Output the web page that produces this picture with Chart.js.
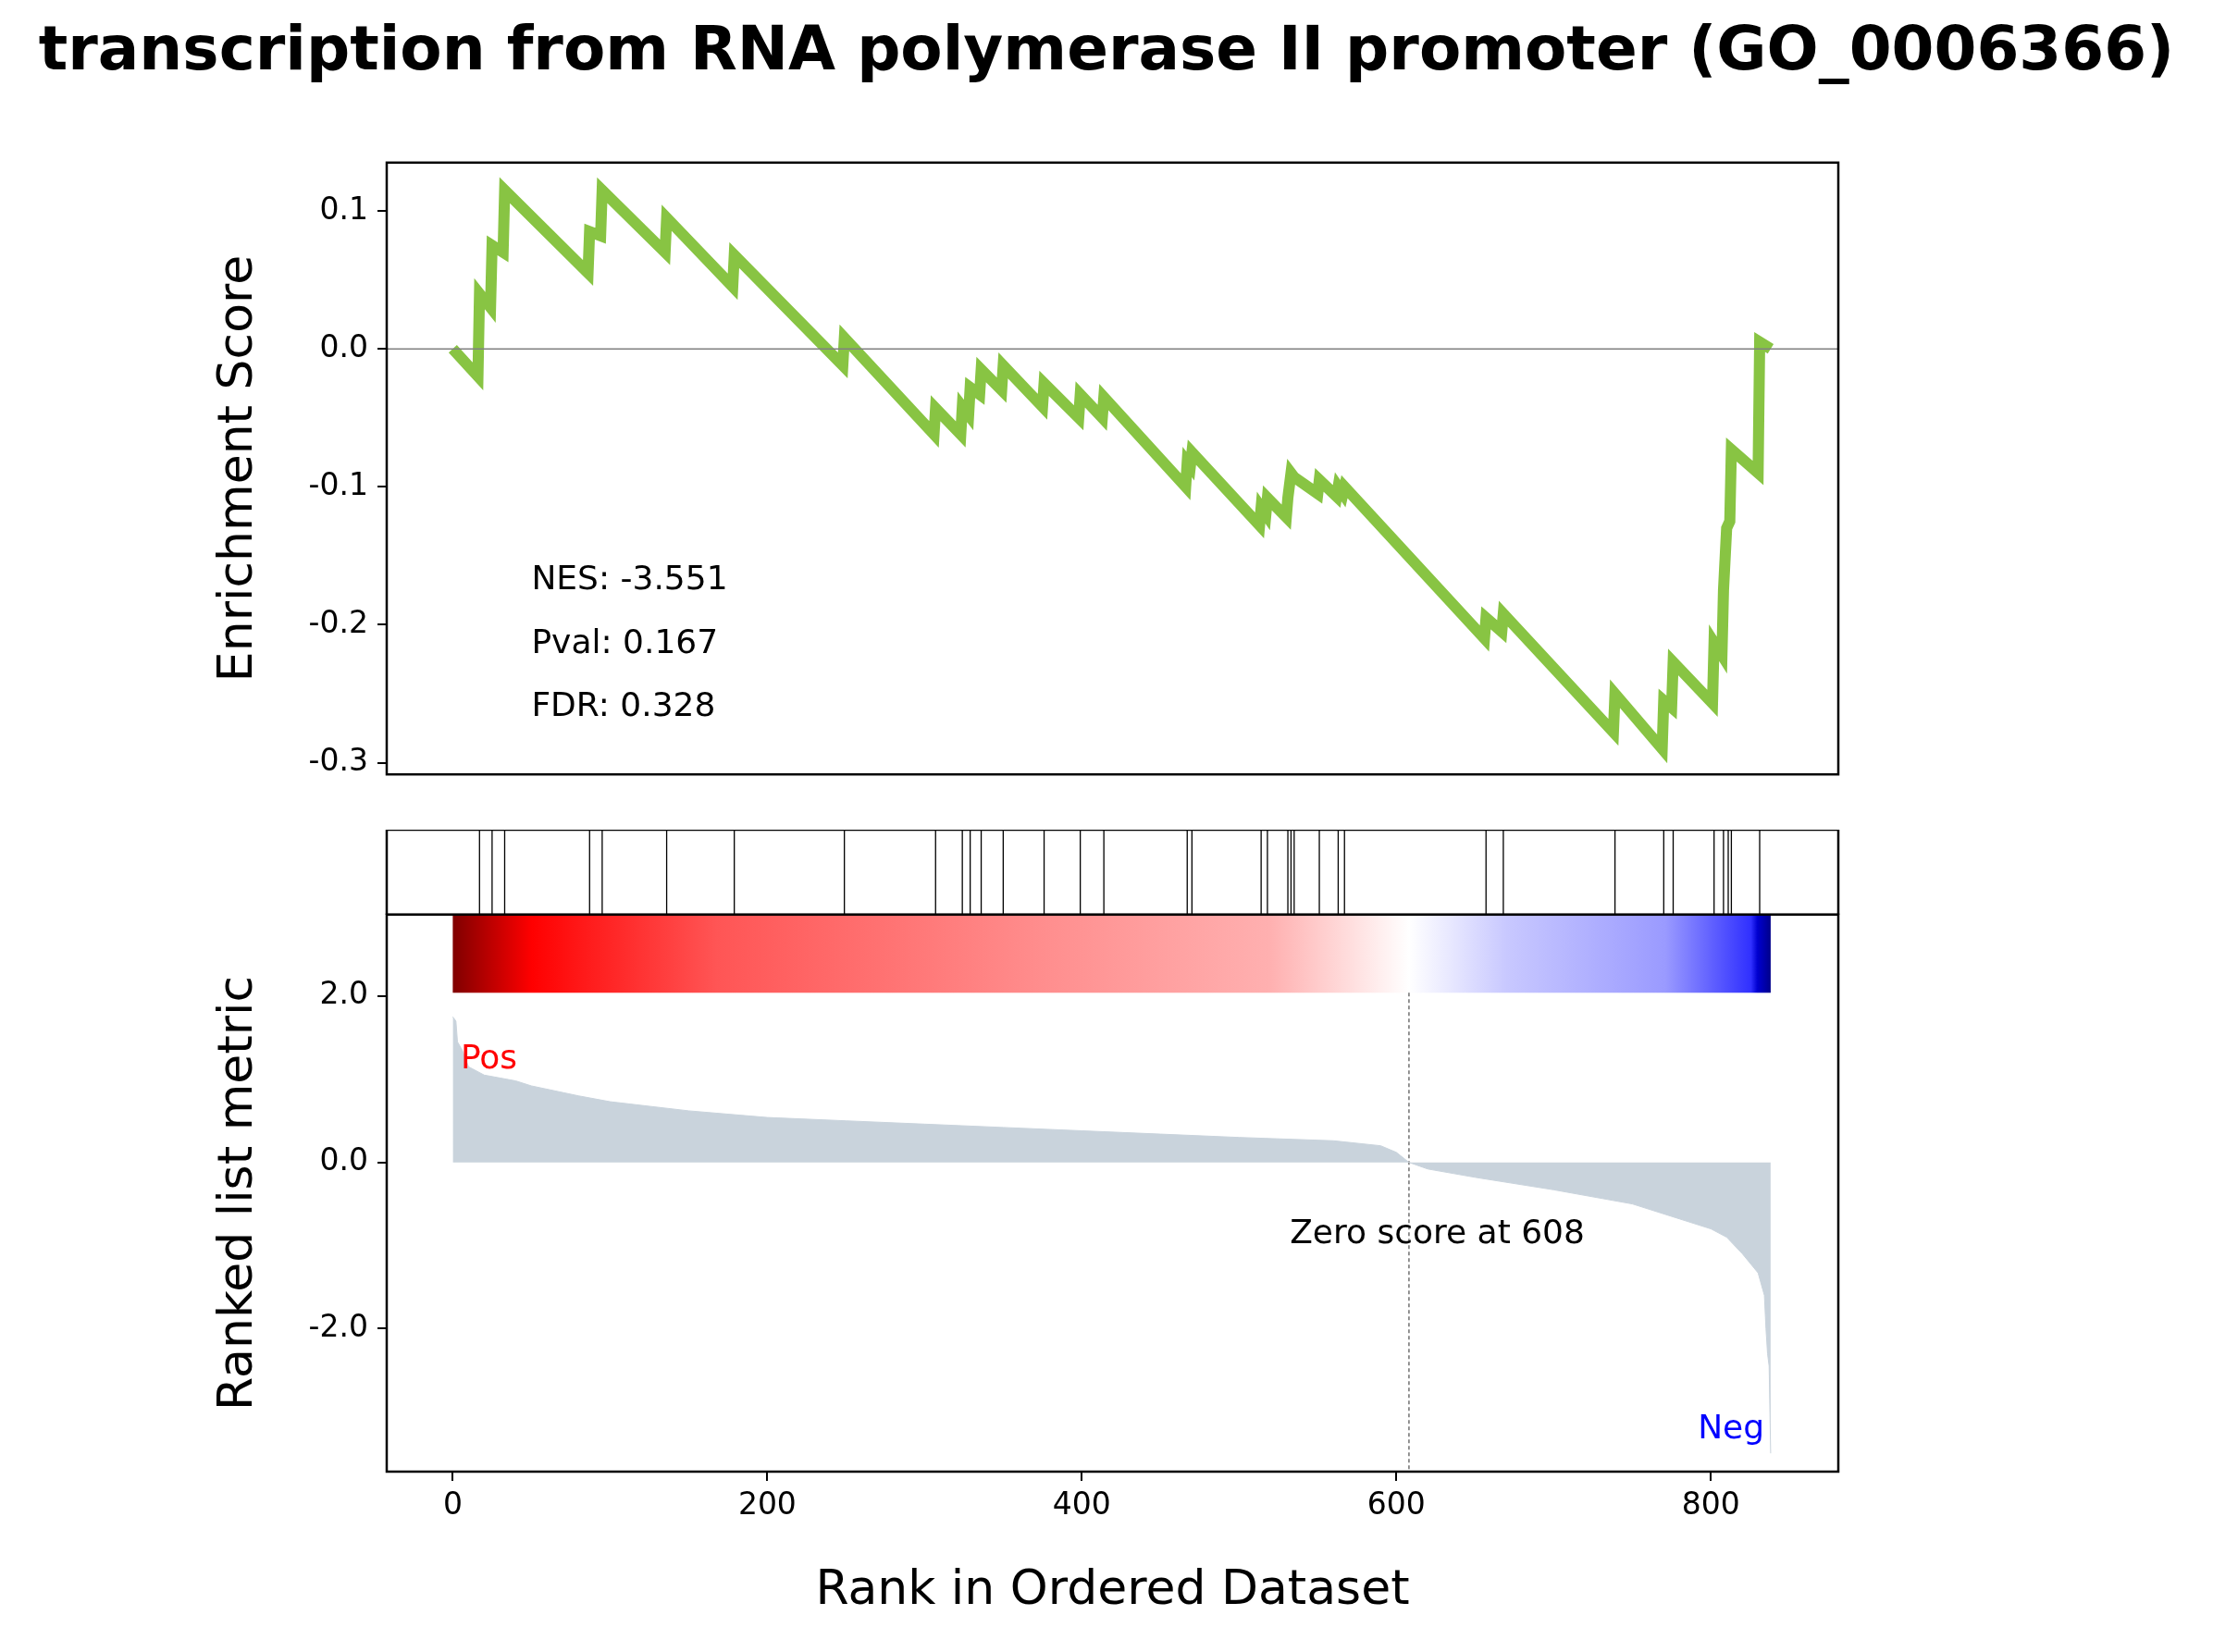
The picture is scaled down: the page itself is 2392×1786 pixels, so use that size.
<!DOCTYPE html><html><head><meta charset="utf-8">
<script src="https://cdn.jsdelivr.net/npm/chart.js@4/dist/chart.umd.min.js"></script>
<style>body{margin:0;width:2392px;height:1786px;background:#fff;position:relative;overflow:hidden;font-family:"DejaVu Sans"}
.p{position:absolute;left:0;width:2392px}#t{position:absolute;top:14px;left:0;width:2392px;text-align:center;font:bold 66px "DejaVu Sans"}</style></head><body>
<div id="t">transcription from RNA polymerase II promoter (GO_0006366)</div>
<div class="p" id="d1" style="top:176px"><canvas id="c1" width="2392" height="721"></canvas></div>
<div class="p" id="d2" style="top:897px"><canvas id="c2" width="2392" height="92"></canvas></div>
<div class="p" id="d3" style="top:989px"><canvas id="c3" width="2392" height="797"></canvas></div>
<script>
const esRank=[0,16,17,24,25,32,33,86,87,94,95,135,136,178,179,248,249,306,307,323,324,328,329,335,336,349,350,375,376,398,399,413,414,466,467,469,470,513,514,517,518,530,531,533,535,550,551,562,563,566,567,656,657,667,668,738,739,769,770,775,776,801,802,807,808,810,812,813,830,831,838];
const esVal=[0,-0.02,0.04,0.03,0.075,0.07,0.115,0.055,0.085,0.082,0.115,0.07,0.095,0.045,0.068,-0.012,0.008,-0.062,-0.043,-0.062,-0.042,-0.048,-0.028,-0.033,-0.015,-0.03,-0.012,-0.042,-0.025,-0.05,-0.033,-0.05,-0.035,-0.1,-0.082,-0.085,-0.075,-0.128,-0.115,-0.12,-0.108,-0.122,-0.108,-0.09,-0.093,-0.105,-0.095,-0.107,-0.1,-0.105,-0.1,-0.21,-0.195,-0.205,-0.192,-0.278,-0.25,-0.29,-0.255,-0.26,-0.227,-0.257,-0.213,-0.222,-0.175,-0.13,-0.125,-0.073,-0.09,0.005,0];
const hits=[17,25,33,87,95,136,179,249,307,324,329,336,350,376,399,414,467,470,514,518,531,533,535,551,563,567,657,668,739,770,776,802,808,811,813,831];
const mRank=[0,2,3,6,10,20,40,50,80,100,150,200,250,300,350,400,450,500,560,590,600,608,620,650,700,750,780,800,810,820,830,834,835,836,837,838];
const mVal=[1.75,1.7,1.45,1.35,1.15,1.05,0.98,0.92,0.8,0.73,0.62,0.54,0.5,0.46,0.42,0.38,0.34,0.3,0.26,0.2,0.12,0,-0.08,-0.18,-0.33,-0.5,-0.68,-0.8,-0.9,-1.1,-1.33,-1.6,-2.0,-2.3,-2.45,-3.5];
const zeroAt=608, nGenes=839;
const stats=[['NES: -3.551',-0.168],['Pval: 0.167',-0.214],['FDR: 0.328',-0.26]];
const XMIN=-42,XMAX=881,F='"DejaVu Sans"';
const frame={id:'frame',afterDraw(c){const a=c.chartArea,g=c.ctx;g.save();g.strokeStyle='#000';g.lineWidth=2.5;g.strokeRect(a.left,a.top,a.right-a.left,a.bottom-a.top);g.restore();}};
function ytitle(text){return{id:'yt',afterDraw(c){if(!text)return;const a=c.chartArea,g=c.ctx;g.save();g.translate(258,(a.top+a.bottom)/2);g.rotate(-Math.PI/2);g.font=`52px ${F}`;g.fillStyle='#000';g.textAlign='center';g.textBaseline='middle';g.fillText(text,0,0);g.restore();}}}
function yAx(min,max,ticks){return{type:'linear',min,max,afterFit(s){s.width=418},afterBuildTicks(s){s.ticks=ticks.map(v=>({value:v}))},
 ticks:{display:!!ticks.length,color:'#000',font:{family:F,size:33},padding:10,callback:v=>v.toFixed(1)},grid:{drawOnChartArea:false,tickLength:10,color:'#000',lineWidth:2},border:{display:false}}}
function xAx(show){return{type:'linear',min:XMIN,max:XMAX,display:show,afterFit(s){if(show)s.height=165},afterBuildTicks(s){s.ticks=[0,200,400,600,800].map(v=>({value:v}))},
 ticks:{color:'#000',font:{family:F,size:33},padding:8},grid:{drawOnChartArea:false,tickLength:10,color:'#000',lineWidth:2},border:{display:false},
 title:{display:true,text:'Rank in Ordered Dataset',color:'#000',font:{family:F,size:52},padding:{top:14}}}}
const base=()=>({responsive:false,animation:false,devicePixelRatio:1,layout:{padding:{left:0,right:405,top:0,bottom:0}},plugins:{legend:{display:false},tooltip:{enabled:false}}});
function txt(id,items){return{id,afterDraw(c){const g=c.ctx,x=c.scales.x,y=c.scales.y;g.save();items.forEach(t=>{g.font=`${t.s||36}px ${F}`;g.fillStyle=t.c||'#000';g.textAlign=t.a||'left';g.textBaseline='middle';g.fillText(t.t,x.getPixelForValue(t.x),y.getPixelForValue(t.y));});g.restore();}}}
function fit(ch,div,top,h,extraBottom){const a=ch.chartArea;const t=a.top, curH=a.bottom-a.top;const dr=1987-a.right;
 ch.options.layout.padding.right=405-dr;const H=ch.height+(h-curH);ch.resize(2392,H);div.style.top=(top-ch.chartArea.top)+'px';}
const ch1=new Chart(c1,{type:'line',data:{datasets:[
 {data:[{x:XMIN,y:0},{x:XMAX,y:0}],borderColor:'#808080',borderWidth:1.5,pointRadius:0},
 {data:esRank.map((r,i)=>({x:r,y:esVal[i]})),borderColor:'#88c443',borderWidth:12,pointRadius:0,borderJoinStyle:'miter',tension:0}]},
 options:{...base(),scales:{x:xAx(false),y:yAx(-0.3085,0.135,[-0.3,-0.2,-0.1,0,0.1])}},
 plugins:[frame,ytitle('Enrichment Score'),txt('t1',stats.map(s=>({t:s[0],x:50,y:s[1]})))]});
const hd=[];hits.forEach(h=>{hd.push({x:h,y:0},{x:h,y:1},{x:h,y:null})});
const ch2=new Chart(c2,{type:'line',data:{datasets:[{data:hd,borderColor:'#000',borderWidth:1.3,pointRadius:0,spanGaps:false}]},
 options:{...base(),scales:{x:xAx(false),y:yAx(0,1,[])}},plugins:[frame]});
const cbar={id:'cbar',beforeDatasetsDraw(c){const g=c.ctx,x=c.scales.x,y=c.scales.y;const x0=x.getPixelForValue(0),x1=x.getPixelForValue(nGenes-1),y0=y.getPixelForValue(2.98),y1=y.getPixelForValue(2.04);
 const gr=g.createLinearGradient(x0,0,x1,0);const z=zeroAt/(nGenes-1);
 gr.addColorStop(0,'#800000');gr.addColorStop(0.06,'#ff0000');gr.addColorStop(0.1,'#ff1a1a');gr.addColorStop(0.2,'#ff5555');gr.addColorStop(0.45,'#ff8e8e');gr.addColorStop(0.62,'#ffb0b0');gr.addColorStop(z,'#ffffff');
 gr.addColorStop(0.8,'#c8c8ff');gr.addColorStop(0.92,'#9a9aff');gr.addColorStop(0.985,'#3030ff');gr.addColorStop(0.99,'#0000d0');gr.addColorStop(1,'#00008a');
 g.fillStyle=gr;g.fillRect(x0,y0,x1-x0,y1-y0);}};
const ch3=new Chart(c3,{type:'line',data:{datasets:[
 {data:mRank.map((r,i)=>({x:r,y:mVal[i]})),borderColor:'#c9d3dc',backgroundColor:'#c9d3dc',borderWidth:1,fill:'origin',pointRadius:0,tension:0},
 {data:[{x:zeroAt,y:2.04},{x:zeroAt,y:-3.72}],borderColor:'#707070',borderWidth:1.5,borderDash:[4,3],pointRadius:0}]},
 options:{...base(),scales:{x:xAx(true),y:yAx(-3.72,2.98,[-2,0,2])}},
 plugins:[frame,cbar,ytitle('Ranked list metric'),txt('t3',[{t:'Pos',x:5,y:1.24,c:'#ff0000'},{t:'Neg',x:834,y:-3.22,c:'#0000ff',a:'right'},{t:'Zero score at 608',x:626,y:-0.87,a:'center'}])]});
fit(ch1,d1,176,721);fit(ch2,d2,897,92);fit(ch3,d3,989,632);
</script></body></html>
